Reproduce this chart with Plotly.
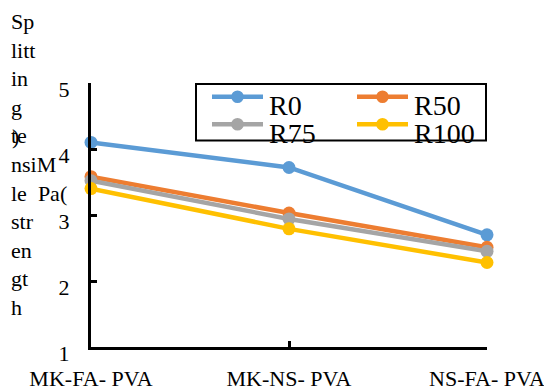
import plotly.graph_objects as go

categories = ["MK-FA- PVA", "MK-NS- PVA", "NS-FA- PVA"]
series_names = ["R0", "R50", "R75", "R100"]
r0 = [4.10, 3.72, 2.70]
r50 = [3.58, 3.03, 2.51]
r75 = [3.52, 2.94, 2.45]
r100 = [3.40, 2.79, 2.28]
colors = ["#5B9BD5", "#ED7D31", "#A5A5A5", "#FFC000"]
y_ticks = [1, 2, 3, 4, 5]
title_lines = ["Sp", "litt", "in", "g", "te", "nsiM", "le\u00a0\u00a0Pa(", "str", "en", "gt", "h"]

W, H = 544, 390
FONT = "Times New Roman, Liberation Serif, DejaVu Serif, serif"


def px(x):
    return x / W


def py(y):
    return 1 - y / H


fig = go.Figure()
for name, vals, col in zip(series_names, [r0, r50, r75, r100], colors):
    fig.add_trace(go.Scatter(
        x=categories, y=vals, name=name, mode="lines+markers",
        line=dict(color=col, width=4.5),
        marker=dict(color=col, size=13),
        cliponaxis=False, showlegend=False,
    ))

# manual legend (Excel-like)
shapes = [dict(type="rect", xref="paper", yref="paper",
               x0=px(196), x1=px(486), y0=py(140.5), y1=py(84),
               line=dict(color="black", width=2), fillcolor="rgba(0,0,0,0)", layer="below")]
annotations = []
for i, (name, col) in enumerate(zip(series_names, colors)):
    row, c = divmod(i, 2)
    lx = 212 if c == 0 else 357
    ly = 96.7 if row == 0 else 124.3
    shapes.append(dict(type="line", xref="paper", yref="paper",
                       x0=px(lx), x1=px(lx + 51), y0=py(ly), y1=py(ly),
                       line=dict(color=col, width=4.5)))
    cx = lx + 25.5
    shapes.append(dict(type="circle", xref="paper", yref="paper",
                       x0=px(cx - 6.3), x1=px(cx + 6.3), y0=py(ly + 6.3), y1=py(ly - 6.3),
                       fillcolor=col, line=dict(color=col, width=0)))
    annotations.append(dict(text=name, xref="paper", yref="paper", x=px(lx + 55), y=py(ly + 9),
                            xanchor="left", yanchor="middle", showarrow=False,
                            font=dict(family=FONT, size=28, color="black")))

# broken y-axis title as in the reference
annotations.append(dict(text="<br>".join(title_lines), xref="paper", yref="paper",
                        x=px(10), y=py(8), xanchor="left", yanchor="top", align="left",
                        showarrow=False, borderpad=0,
                        font=dict(family=FONT, size=22, color="black")))
annotations.append(dict(text=")", xref="paper", yref="paper", x=px(15), y=py(136),
                        xanchor="center", yanchor="middle", showarrow=False,
                        font=dict(family=FONT, size=22, color="black")))

fig.update_layout(
    width=W, height=H, autosize=False,
    margin=dict(l=0, r=0, t=0, b=0, autoexpand=False),
    paper_bgcolor="white", plot_bgcolor="white",
    font=dict(family=FONT, size=22, color="black"),
    shapes=shapes, annotations=annotations,
    xaxis=dict(type="category", domain=[px(91), px(487)], range=[0, 2],
               automargin=False,
               showline=True, linecolor="black", linewidth=3,
               ticks="inside", ticklen=6, tickwidth=2.5, tickcolor="black",
               showgrid=False, zeroline=False, ticklabelstandoff=10,
               tickfont=dict(family=FONT, size=22, color="black")),
    yaxis=dict(domain=[py(347), py(83)], range=[1, 5], tickvals=y_ticks,
               automargin=False,
               showline=True, linecolor="black", linewidth=3,
               ticks="inside", ticklen=6, tickwidth=2.5, tickcolor="black",
               showgrid=False, zeroline=False,
               ticklabelshift=6, ticklabelstandoff=14,
               tickfont=dict(family=FONT, size=22, color="black")),
)

fig.write_html("out.html")
